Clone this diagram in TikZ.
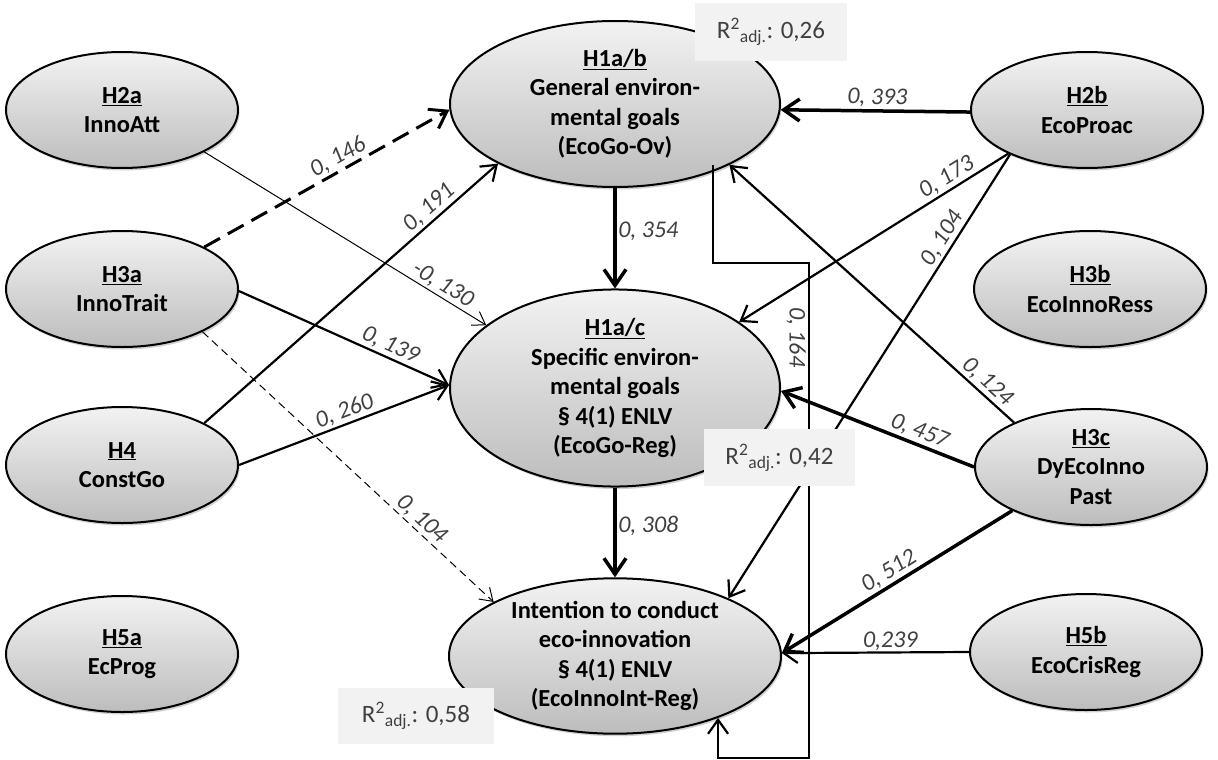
\documentclass[tikz,border=0pt]{standalone}
\usepackage{fontspec}
\setmainfont{Carlito}
\usetikzlibrary{shapes.geometric,arrows.meta,shadows}
\definecolor{labelgray}{HTML}{404040}
\definecolor{boxgray}{HTML}{F2F2F2}
\begin{document}
\begin{tikzpicture}[x=1pt,y=-1pt,
  construct/.style={ellipse, draw=black, line width=2pt, inner sep=0pt,
    top color=white!95!black, bottom color=white!74!black,
    drop shadow={shadow xshift=1.5pt, shadow yshift=-2.5pt, opacity=0.3, fill=black!60},
    align=center, font=\fontsize{24.5}{29.5}\selectfont\bfseries},
  small/.style={construct, minimum width=232pt, minimum height=116pt},
  thickarr/.style={line width=3.5pt, -{Straight Barb[length=16pt,width=22pt]}},
  normarr/.style={line width=2.2pt, -{Straight Barb[length=14pt,width=20pt]}},
  thinarr/.style={line width=1pt, -{Straight Barb[length=12pt,width=16pt]}},
  coeffont/.style={font=\fontsize{24}{26}\selectfont\itshape, text=labelgray},
  coef/.style={coeffont, sloped, above, inner sep=2pt},
  coefv/.style={coeffont, anchor=west, inner sep=1.5pt},
  r2box/.style={fill=boxgray, inner sep=0pt, font=\fontsize{25}{27}\selectfont, text=labelgray}
]
\useasboundingbox (0,0) rectangle (1218,760);

% exogenous constructs, left column
\node[small] (h2a) at (122,110) {\underline{H2a}\\InnoAtt};
\node[small] (h3a) at (122,289) {\underline{H3a}\\InnoTrait};
\node[small] (h4)  at (122,465) {\underline{H4}\\ConstGo};
\node[small] (h5a) at (122,654) {\underline{H5a}\\EcProg};

% exogenous constructs, right column
\node[small] (h2b) at (1087,110) {\underline{H2b}\\EcoProac};
\node[small] (h3b) at (1090,289) {\underline{H3b}\\EcoInnoRess};
\node[small] (h3c) at (1091,467) {\underline{H3c}\\DyEcoInno\\Past};
\node[small] (h5b) at (1086,652) {\underline{H5b}\\EcoCrisReg};

% endogenous constructs, centre column
\node[construct, minimum width=330pt, minimum height=166pt] (goov) at (615,104)
  {\underline{H1a/b}\\General environ-\\mental goals\\(EcoGo-Ov)};
\node[construct, minimum width=330pt, minimum height=162pt] (goreg) at (615,388)
  {\underline{H1a/c}\\Specific environ-\\mental goals\\§ 4(1) ENLV\\(EcoGo-Reg)};
\node[construct, minimum width=332pt, minimum height=148pt] (intent) at (615,656)
  {Intention to conduct\\eco-innovation\\§ 4(1) ENLV\\(EcoInnoInt-Reg)};

% paths from the right
\draw[thickarr] (h2b.181) -- node[coef,pos=0.49]{0, 393} (goov.-2);
\draw[normarr] (h2b.209) -- node[coef,pos=0.204]{0, 173} (goreg.28);
\draw[normarr] (h2b.210) -- node[coef,pos=0.204]{0, 104} (intent.27);
\draw[normarr] (h3c.150) -- node[coef,pos=0.123]{0, 124} (goov.-28);
\draw[thickarr] (h3c.180) -- node[coef,pos=0.307]{0, 457} (goreg.-1);
\draw[thickarr] (h3c.209) -- node[coef,pos=0.505]{0, 512} (intent.1);
\draw[normarr] (h5b.180) -- node[coef,pos=0.42,inner sep=0.5pt]{0,239} (intent.1);

% paths from the left
\draw[thickarr, line width=3pt, dash pattern=on 18pt off 9pt] (h3a.27) -- node[coef,pos=0.572]{0, 146} (goov.182);
\draw[thinarr] (h2a.-27) -- node[coef,pos=0.824]{-0, 130} (goreg.154);
\draw[normarr] (h4.27) -- node[coef,pos=0.793]{0, 191} (goov.207);
\draw[normarr] (h3a.-1) -- node[coef,pos=0.697]{0, 139} (goreg.179);
\draw[normarr] (h4.0) -- node[coef,pos=0.524]{0, 260} (goreg.179);
\draw[thinarr, dash pattern=on 8pt off 5pt] (h3a.-28) -- node[coef,pos=0.725]{0, 104} (intent.156);

% paths down the centre
\draw[thickarr] (goov.south) -- node[coefv,pos=0.43]{0, 354} (goreg.north);
\draw[thickarr] (goreg.south) -- node[coefv,pos=0.43]{0, 308} (intent.north);

% indirect path routed around the right side
\coordinate (loopA) at ([shift={(98,61)}]goov.center);
\coordinate (loopB) at ([shift={(194,159)}]goov.center);
\draw[normarr] (loopA) |- (loopB)
  -- node[coeffont, pos=0.15, rotate=-90, anchor=north, inner sep=2pt]{0, 164} ++(0,495)
  -| (intent.-31);

% explained variance boxes
\node[r2box, minimum width=152pt, minimum height=58pt] (r2ov) at (771,32)
  {R\textsuperscript{2}\textsubscript{adj.}: 0,26};
\node[r2box, minimum width=151pt, minimum height=57pt] (r2reg) at (779.5,457.5)
  {R\textsuperscript{2}\textsubscript{adj.}: 0,42};
\node[r2box, minimum width=156pt, minimum height=56pt] (r2int) at (416,716)
  {R\textsuperscript{2}\textsubscript{adj.}: 0,58};
\end{tikzpicture}
\end{document}
